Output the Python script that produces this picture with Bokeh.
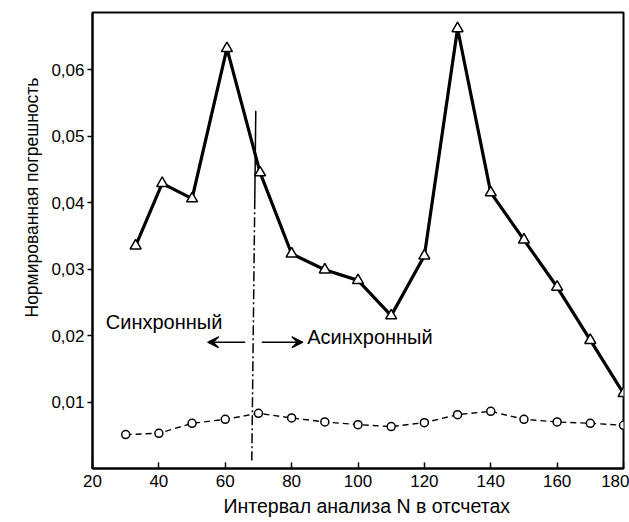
from bokeh.plotting import figure
from bokeh.models import FixedTicker, Arrow, VeeHead, Range1d, Title
from bokeh.core.properties import value
from bokeh.embed import file_html
from bokeh.resources import INLINE

# --- data ---
n_tri = [33, 41, 50, 60.5, 70.5, 80, 90, 100, 110, 120, 130, 140, 150, 160, 170, 180]
err_tri = [0.0335, 0.0429, 0.0406, 0.0632, 0.0445, 0.0323, 0.0299, 0.0283, 0.0230,
           0.0320, 0.0662, 0.0415, 0.0344, 0.0273, 0.0193, 0.0113]

n_circ = [30, 40, 50, 60, 70, 80, 90, 100, 110, 120, 130, 140, 150, 160, 170, 180]
err_circ = [0.0051, 0.0053, 0.0068, 0.0074, 0.0083, 0.0076, 0.0070, 0.0066, 0.0063,
            0.0069, 0.0081, 0.0086, 0.0074, 0.0070, 0.0068, 0.0065]

x_ticks = [20, 40, 60, 80, 100, 120, 140, 160, 180]
x_tick_labels = ["20", "40", "60", "80", "100", "120", "140", "160", "180"]
y_ticks = [0.01, 0.02, 0.03, 0.04, 0.05, 0.06]
y_tick_labels = ["0,01", "0,02", "0,03", "0,04", "0,05", "0,06"]

# boundary between synchronous / asynchronous
boundary_solid_x = [69.2, 68.9]
boundary_solid_y = [0.0538, 0.0405]
boundary_dash_x = [68.9, 68.0]
boundary_dash_y = [0.0405, 0.0012]

arrow_left = (66.0, 54.7, 0.0190)
arrow_right = (71.0, 83.4, 0.0190)

label_sync = ("Синхронный", 24.0, 0.0221)
label_async = ("Асинхронный", 84.7, 0.0198)

x_title = "Интервал анализа N в отсчетах"
y_title = "Нормированная погрешность"

FONT = "Liberation Sans"

p = figure(width=629, height=522, output_backend="svg", toolbar_location=None,
           x_range=Range1d(20, 180), y_range=Range1d(0, 0.0686),
           min_border_left=92, min_border_right=6, min_border_top=12,
           min_border_bottom=54)

p.grid.visible = False
p.background_fill_color = "white"
p.border_fill_color = "white"
p.outline_line_color = "black"
p.outline_line_width = 2

# axes
p.xaxis.ticker = FixedTicker(ticks=x_ticks)
p.xaxis.major_label_overrides = {t: l for t, l in zip(x_ticks, x_tick_labels)}
p.yaxis.ticker = FixedTicker(ticks=y_ticks)
p.yaxis.major_label_overrides = {t: l for t, l in zip(y_ticks, y_tick_labels)}
p.xaxis.minor_tick_line_color = None
p.yaxis.minor_tick_line_color = None

p.xaxis.major_tick_in = 6
p.xaxis.major_tick_out = 0
p.yaxis.major_tick_in = 0
p.yaxis.major_tick_out = 5

for ax in (p.xaxis, p.yaxis):
    ax.axis_line_width = 2
    ax.axis_line_color = "black"
    ax.major_tick_line_width = 1.5
    ax.major_tick_line_color = "black"
    ax.major_label_text_font = FONT
    ax.major_label_text_font_size = "17px"
    ax.major_label_text_color = "black"

p.xaxis.major_label_standoff = 6
p.yaxis.major_label_standoff = 3

# axis titles placed like the original
p.add_layout(Title(text=x_title, align="left", offset=131, standoff=7,
                   text_font=FONT, text_font_size="19.5px", text_font_style="normal",
                   text_color="black"), "below")
p.add_layout(Title(text=y_title, align="left", offset=151, standoff=13,
                   text_font=FONT, text_font_size="17.5px", text_font_style="normal",
                   text_color="black"), "left")

# boundary line
p.line(boundary_solid_x, boundary_solid_y, line_color="black", line_width=1.5)
p.line(boundary_dash_x, boundary_dash_y, line_color="black", line_width=1.5,
       line_dash="10 3 2 3")

# series
p.line(n_tri, err_tri, line_color="black", line_width=3.2)
p.scatter(n_tri, err_tri, marker="triangle", size=11, fill_color="white",
          line_color="black", line_width=1.5)

p.line(n_circ, err_circ, line_color="black", line_width=1.4, line_dash="6 4")
p.scatter(n_circ, err_circ, marker="circle", size=8, fill_color="white",
          line_color="black", line_width=1.5)

# arrows
for (x0, x1, y) in (arrow_left, arrow_right):
    p.add_layout(Arrow(x_start=x0, y_start=y, x_end=x1, y_end=y,
                       line_color="black", line_width=1.5,
                       end=VeeHead(size=11, line_color="black", fill_color="black",
                                   line_width=1.2)))

# labels
for (txt, x, y) in (label_sync, label_async):
    p.text(x=[x], y=[y], text=[txt], text_font=value(FONT),
           text_font_size="20px", text_baseline="middle", text_align="left",
           text_color="black")

open("out.html", "w").write(file_html(p, INLINE))
